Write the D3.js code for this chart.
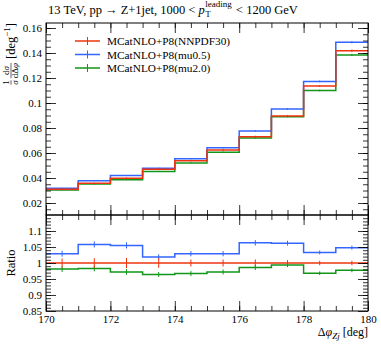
<!DOCTYPE html>
<html><head><meta charset="utf-8">
<script src="https://cdn.jsdelivr.net/npm/d3@7"></script>
<style>body{margin:0;background:#fff}svg{display:block}text{font-family:"Liberation Serif","DejaVu Serif",serif;fill:#000;white-space:pre}</style>
</head><body><svg id="c" width="381" height="344"></svg>
<script>
// ---- data ----
const binEdges = [170,171,172,173,174,175,176,177,178,179,180];
const seriesNames = ["MCatNLO+P8(NNPDF30)","MCatNLO+P8(mu0.5)","MCatNLO+P8(mu2.0)"];
const seriesColors = ["#EE3311","#3366FF","#109618"];
const valNNPDF = [0.0310,0.0358,0.0398,0.0470,0.0539,0.0624,0.0730,0.0896,0.1136,0.1418];
const valMu05  = [0.0319,0.0379,0.0420,0.0479,0.0555,0.0642,0.0776,0.0952,0.1173,0.1486];
const valMu20  = [0.0304,0.0352,0.0387,0.0453,0.0521,0.0607,0.0720,0.0891,0.1100,0.1385];
const ratioNNPDF = [1,1,1,1,1,1,1,1,1,1];
const ratioMu05 = [1.029,1.058,1.055,1.019,1.029,1.029,1.063,1.062,1.033,1.048];
const ratioMu20 = [0.981,0.983,0.972,0.964,0.967,0.972,0.986,0.994,0.968,0.977];
const relErrNNPDF = [0.014,0.015,0.016,0.015,0.011,0.011,0.011,0.009,0.007,0.007];
const relErrMu05  = [0.009,0.009,0.009,0.008,0.008,0.008,0.008,0.007,0.006,0.006];
const relErrMu20  = [0.009,0.009,0.009,0.008,0.008,0.008,0.008,0.007,0.006,0.006];
const xTickLabels = [170,172,174,176,178,180];
const yMainTicks = [0.02,0.04,0.06,0.08,0.1,0.12,0.14,0.16];
const yRatioTicks = [0.85,0.9,0.95,1,1.05,1.1];

// ---- layout ----
const FONT='"Liberation Serif","DejaVu Serif",serif';
const L=46,R=368,T=23,M=215,B=311;
const svg=d3.select("#c");
const x=d3.scaleLinear().domain([170,180]).range([L,R]);
const yM=d3.scaleLinear().domain([0.0104,0.164]).range([M,T]);
const yR=d3.scaleLinear().domain([0.85,1.15]).range([B,M]);

const mainVals=[valNNPDF,valMu05,valMu20];
const ratioVals=[ratioNNPDF,ratioMu05,ratioMu20];
const relErrs=[relErrNNPDF,relErrMu05,relErrMu20];

function stepPath(vals,ys){
  let p="";
  vals.forEach((v,i)=>{
    const x0=x(binEdges[i]),x1=x(binEdges[i+1]),y=ys(v);
    p+=(i===0?"M":"L")+x0+","+y+"L"+x1+","+y;
  });
  return p;
}
const defs=svg.append("defs");
defs.append("clipPath").attr("id","cm").append("rect").attr("x",L).attr("y",T).attr("width",R-L).attr("height",M-T);
defs.append("clipPath").attr("id","cr").append("rect").attr("x",L).attr("y",M).attr("width",R-L).attr("height",B-M);
const gM=svg.append("g").attr("clip-path","url(#cm)");
const gR=svg.append("g").attr("clip-path","url(#cr)");

[2,1,0].forEach(s=>{
  const c=seriesColors[s];
  gM.append("path").attr("d",stepPath(mainVals[s],yM)).attr("fill","none").attr("stroke",c).attr("stroke-width",1.5);
  mainVals[s].forEach((v,i)=>{
    const cx=x((binEdges[i]+binEdges[i+1])/2), e=v*relErrs[s][i];
    gM.append("line").attr("x1",cx).attr("x2",cx).attr("y1",yM(v-e)).attr("y2",yM(v+e)).attr("stroke",c).attr("stroke-width",1);
  });
  gR.append("path").attr("d",stepPath(ratioVals[s],yR)).attr("fill","none").attr("stroke",c).attr("stroke-width",1.5);
  ratioVals[s].forEach((v,i)=>{
    const cx=x((binEdges[i]+binEdges[i+1])/2), e=v*relErrs[s][i];
    gR.append("line").attr("x1",cx).attr("x2",cx).attr("y1",yR(v-e)).attr("y2",yR(v+e)).attr("stroke",c).attr("stroke-width",1);
  });
});

// ---- axes ----
function styleAxis(g){g.attr("font-family",null).attr("font-size",null);g.select(".domain").remove();g.selectAll("line").attr("stroke","#000").attr("stroke-width",0.8);g.selectAll("text").style("font-family",FONT).style("font-size","11px").attr("fill","#000");}
const xMinor=d3.range(170,180.01,0.5);
const xMajor=xTickLabels;
[[T,d3.axisTop],[M,d3.axisBottom],[B,d3.axisBottom],[M,d3.axisTop]].forEach(([yy,ax])=>{
  svg.append("g").attr("transform",`translate(0,${yy})`).call(ax(x).tickValues(xMinor).tickSize(-5).tickFormat("")).call(styleAxis);
  svg.append("g").attr("transform",`translate(0,${yy})`).call(ax(x).tickValues(xMajor).tickSize(-10).tickFormat("")).call(styleAxis);
});
svg.append("g").attr("transform",`translate(0,${B})`).call(d3.axisBottom(x).tickValues(xTickLabels).tickSize(0).tickPadding(4).tickFormat(d3.format("d"))).call(styleAxis);
const yMainMinor=d3.range(0.015,0.1641,0.005);
[[L,d3.axisLeft],[R,d3.axisRight]].forEach(([xx,ax],k)=>{
  svg.append("g").attr("transform",`translate(${xx},0)`).call(ax(yM).tickValues(yMainMinor).tickSize(-5).tickFormat("")).call(styleAxis);
  svg.append("g").attr("transform",`translate(${xx},0)`).call(ax(yM).tickValues(yMainTicks).tickSize(-10).tickFormat(k===0?(d=>String(+d.toFixed(2))):"").tickPadding(4)).call(styleAxis);
});
const yRMinor=d3.range(0.86,1.15,0.01);
[[L,d3.axisLeft],[R,d3.axisRight]].forEach(([xx,ax],k)=>{
  svg.append("g").attr("transform",`translate(${xx},0)`).call(ax(yR).tickValues(yRMinor).tickSize(-5).tickFormat("")).call(styleAxis);
  svg.append("g").attr("transform",`translate(${xx},0)`).call(ax(yR).tickValues(yRatioTicks).tickSize(-10).tickFormat(k===0?(d=>String(+d.toFixed(2))):"").tickPadding(4)).call(styleAxis);
});
svg.append("rect").attr("x",L).attr("y",T).attr("width",R-L).attr("height",M-T).attr("fill","none").attr("stroke","#000").attr("stroke-width",1);
svg.append("rect").attr("x",L).attr("y",M).attr("width",R-L).attr("height",B-M).attr("fill","none").attr("stroke","#000").attr("stroke-width",1);

// ---- legend ----
const legY=[41,54.5,68];
seriesNames.forEach((n,i)=>{
  const c=seriesColors[i];
  svg.append("line").attr("x1",75).attr("x2",100).attr("y1",legY[i]).attr("y2",legY[i]).attr("stroke",c).attr("stroke-width",1.5);
  svg.append("line").attr("x1",87.5).attr("x2",87.5).attr("y1",legY[i]-4).attr("y2",legY[i]+4).attr("stroke",c).attr("stroke-width",1);
  svg.append("text").attr("x",107).attr("y",legY[i]+4).style("font-size","11.3px").text(n);
});

// ---- title ----
let tx=48; const tb=14;
const t1=svg.append("text").attr("x",tx).attr("y",tb).style("font-size","12.5px").text("13 TeV, pp \u2192 Z+1jet, 1000 <\u00A0");
tx+=t1.node().getComputedTextLength();
const tp=svg.append("text").attr("x",tx).attr("y",tb).style("font-size","12.5px").attr("font-style","italic").text("p");
tx+=tp.node().getComputedTextLength()+0.5;
const tT=svg.append("text").attr("x",tx).attr("y",tb+3).style("font-size","9px").text("T");
const tl=svg.append("text").attr("x",tx).attr("y",tb-7).style("font-size","9px").text("leading");
tx+=Math.max(tT.node().getComputedTextLength(),tl.node().getComputedTextLength())+1;
svg.append("text").attr("x",tx).attr("y",tb).style("font-size","12.5px").text("\u00A0< 1200 GeV");

// ---- x label ----
const xl=svg.append("text").attr("x",R).attr("y",336).attr("text-anchor","end").style("font-size","12px");
xl.append("tspan").text("\u0394");
xl.append("tspan").attr("font-style","italic").text("\u03C6");
xl.append("tspan").attr("font-style","italic").style("font-size","9px").attr("dy",3).text("Zj");
xl.append("tspan").attr("dy",-3).text("\u00A0[deg]");

// ---- ratio label ----
svg.append("text").attr("transform","translate(15,263) rotate(-90)").attr("text-anchor","middle").style("font-size","12.5px").text("Ratio");

// ---- y label (rotated) ----
const yl=svg.append("g").attr("transform",`translate(15,${T}) rotate(-90)`);
const br=yl.append("text").attr("x",0).attr("y",0).attr("text-anchor","end").style("font-size","12.5px");
br.append("tspan").text("[deg");
br.append("tspan").style("font-size","9px").attr("dy",-5).text("\u22121");
br.append("tspan").attr("dy",5).text("]");
let lx=-br.node().getComputedTextLength()-4;
function frac(num,den,right){
  const n=yl.append("text").attr("text-anchor","middle").style("font-size","9px").attr("y",-6);
  num(n);
  const d=yl.append("text").attr("text-anchor","middle").style("font-size","9px").attr("y",3);
  den(d);
  const w=Math.max(n.node().getComputedTextLength(),d.node().getComputedTextLength());
  const cx=right-w/2;
  n.attr("x",cx); d.attr("x",cx);
  yl.append("line").attr("x1",right-w).attr("x2",right).attr("y1",-4).attr("y2",-4).attr("stroke","#000").attr("stroke-width",0.6);
  return right-w;
}
lx=frac(t=>{t.append("tspan").text("d");t.append("tspan").attr("font-style","italic").text("\u03C3");},
        t=>{t.append("tspan").text("d\u0394");t.append("tspan").attr("font-style","italic").text("\u03C6");},lx)-2;
frac(t=>t.text("1"),t=>t.append("tspan").attr("font-style","italic").text("\u03C3"),lx);
</script></body></html>
